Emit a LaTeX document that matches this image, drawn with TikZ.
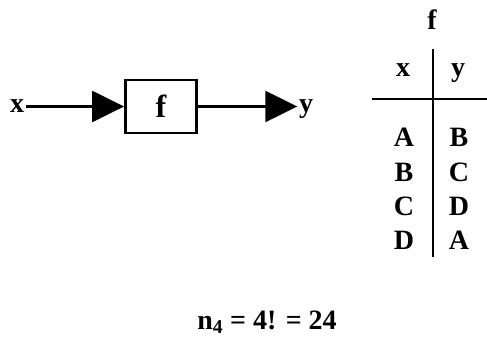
\documentclass[tikz,border=0pt]{standalone}
\usepackage{fontspec}
\setmainfont{Liberation Serif}
\usetikzlibrary{arrows.meta,positioning}

\begin{document}
\begin{tikzpicture}[
    x=1pt, y=-1pt,
    every node/.style={font=\fontsize{28}{32}\selectfont\bfseries},
    signal/.style={inner sep=1.5pt, text height=13pt, text depth=0pt},
    block/.style={draw, line width=2.8pt, minimum width=71pt, minimum height=53pt, font=\fontsize{32}{36}\selectfont\bfseries},
    entry/.style={anchor=base, inner sep=0pt},
    flow/.style={-{Triangle[length=32pt, width=31pt]}, line width=2.4pt},
    rule/.style={line width=2.4pt}
  ]
  \useasboundingbox (0,0) rectangle (487,339);
  % block diagram
  \node[block] (fbox) at (161,106.5) {f};
  \node[signal] (xin) at (17,106.5) {x};
  \node[signal] (yout) at (306,106.5) {y};
  \draw[flow] (xin) -- (fbox);
  \draw[flow] (fbox) -- (yout);
  % table of f
  \node[entry] (ftitle) at (432,30) {f};
  \node[entry] (hx) at (403,77) {x};
  \node[entry] (hy) at (458,77) {y};
  \coordinate (vtop) at (433,49);
  \coordinate (vbot) at (433,257);
  \coordinate (hleft) at (372,99);
  \coordinate (hright) at (487,99);
  \draw[rule] (vtop) -- (vbot);
  \draw[rule] (hleft) -- (hright);
  \foreach \a/\b [count=\i from 0] in {A/B,B/C,C/D,D/A} {
    \node[entry] (l\a) at (404,147+34.3*\i) {\a};
    \node[entry] (r\b) at (459,147+34.3*\i) {\b};
  }
  \node[entry] (count) at (267,329) {n\textsubscript{4} = 4! = 24};
\end{tikzpicture}
\end{document}
